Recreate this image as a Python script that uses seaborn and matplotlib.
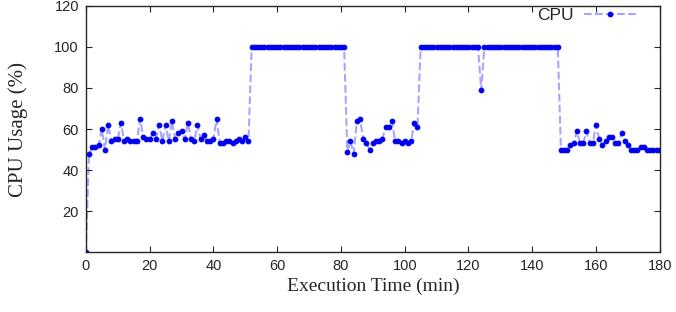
import numpy as np
import pandas as pd
import seaborn as sns
import matplotlib.pyplot as plt

sns.set_style('ticks')
plt.rcParams['font.family'] = ['Liberation Sans', 'DejaVu Sans']

# CPU usage sampled once a minute
minutes = list(range(0, 181))
cpu = (
    [0, 48, 51, 51, 52, 60, 50, 62, 54, 55,
     55, 63, 54, 55, 54, 54, 54, 65, 56, 55,
     55, 58, 55, 62, 54, 62, 54, 64, 55, 58,
     59, 55, 63, 55, 54, 62, 55, 57, 54, 54,
     55, 65, 53, 53, 54, 54, 53, 54, 55, 54,
     56, 54]
    + [100] * 30                      # 52 - 81
    + [49, 54, 48, 64, 65, 55, 53, 50, 53, 54,
       54, 55, 61, 61, 64, 54, 54, 53, 54, 53,
       54, 63, 61]                    # 82 - 104
    + [100] * 19 + [79] + [100] * 24  # 105 - 148
    + [50, 50, 50, 52, 53, 59, 53, 53, 59, 53,
       53, 62, 55, 52, 54, 56, 56, 53, 53, 58,
       54, 52, 50, 50, 50, 51, 51, 50, 50, 50,
       50, 50]                        # 149 - 180
)
df = pd.DataFrame({'time': minutes, 'cpu': cpu[:len(minutes)]})

fig = plt.figure(figsize=(6.76, 3.12), dpi=100)
ax = fig.add_axes([0.127, 0.192, 0.849, 0.789])

sns.lineplot(data=df, x='time', y='cpu', ax=ax, label='CPU',
             color=(0, 0, 1, 0.35), linestyle='--', linewidth=1.5,
             marker='o', markersize=3.4, markerfacecolor='#0000ee',
             markeredgecolor='#0000ee')

ax.set_xlim(0, 180)
ax.set_ylim(0, 120)
ax.set_xticks(range(0, 181, 20))
ax.set_yticks(range(20, 121, 20))
ax.tick_params(direction='in', top=True, right=True, labelsize=10.5,
               length=4, pad=5)
for s in ax.spines.values():
    s.set_linewidth(1.0)

ax.set_xlabel('Execution Time (min)', fontsize=14, family='Liberation Serif',
              labelpad=3)
ax.set_ylabel('CPU Usage (%)', fontsize=15, family='Liberation Serif',
              labelpad=19)

ax.legend(loc='upper right', frameon=False, markerfirst=False, fontsize=12.5,
          handlelength=3.0, handletextpad=0.6,
          bbox_to_anchor=(0.98, 1.04), borderaxespad=0.3)

plt.savefig('out.png', dpi=100)
